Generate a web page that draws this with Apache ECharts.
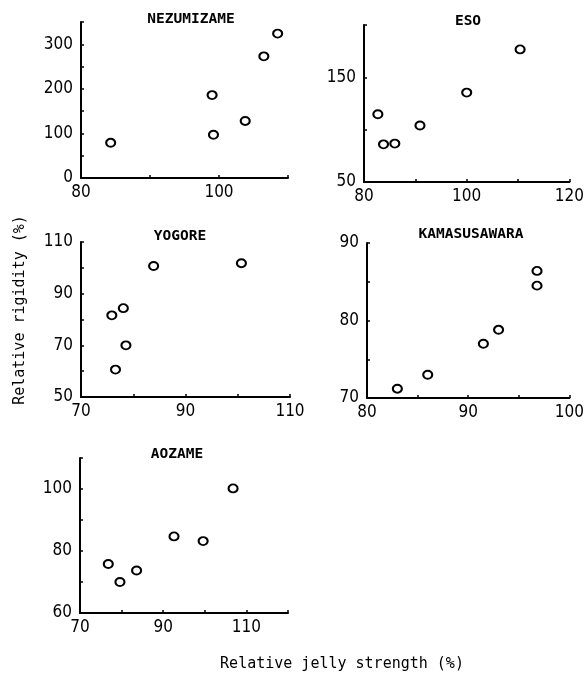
<!DOCTYPE html>
<html>
<head>
<meta charset="utf-8">
<script src="https://cdn.jsdelivr.net/npm/echarts@6/dist/echarts.min.js"></script>
<style>
html, body { margin: 0; padding: 0; background: #fff; }
#chart { width: 587px; height: 677px; }
</style>
</head>
<body>
<div id="chart"></div>
<script>
// relative jelly strength (x) vs relative rigidity (y)
var nezumizameX = [84.3, 99.0, 99.2, 103.8, 106.5, 108.5];
var nezumizameY = [79, 186, 97, 128, 273, 324];

var esoX = [82.7, 83.8, 86.0, 90.9, 100.0, 110.4];
var esoY = [114.7, 86, 86.7, 104, 135.4, 176.7];

var yogoreX = [75.9, 78.1, 78.6, 76.6, 83.9, 100.7];
var yogoreY = [81.6, 84.4, 70, 60.6, 100.7, 101.8];

var kamasusawaraX = [83.0, 86.0, 91.5, 93.0, 96.8, 96.8];
var kamasusawaraY = [71.2, 73.0, 77.0, 78.8, 84.5, 86.4];

var aozameX = [76.8, 79.6, 83.6, 92.6, 99.6, 106.8];
var aozameY = [75.8, 70, 73.7, 84.7, 83.2, 100.2];

// which ticks carry a label
var nezumizameXTicks = [80, 100];
var nezumizameYTicks = [0, 100, 200, 300];
var esoXTicks = [80, 100, 120];
var esoYTicks = [50, 150];
var yogoreXTicks = [70, 90, 110];
var yogoreYTicks = [50, 70, 90, 110];
var kamasusawaraXTicks = [80, 90, 100];
var kamasusawaraYTicks = [70, 80, 90];
var aozameXTicks = [70, 90, 110];
var aozameYTicks = [60, 80, 100];

var panels = [
    {name: 'NEZUMIZAME', x: nezumizameX, y: nezumizameY, xt: nezumizameXTicks, yt: nezumizameYTicks,
        xr: [80, 110, 10], yr: [0, 350, 50], grid: {left: 81, top: 22, width: 207, height: 156}, tp: [191, 12]},
    {name: 'ESO', x: esoX, y: esoY, xt: esoXTicks, yt: esoYTicks,
        xr: [80, 120, 10], yr: [50, 200, 50], grid: {left: 364, top: 25, width: 209, height: 157}, tp: [468, 14]},
    {name: 'YOGORE', x: yogoreX, y: yogoreY, xt: yogoreXTicks, yt: yogoreYTicks,
        xr: [70, 110, 10], yr: [50, 110, 10], grid: {left: 81, top: 242, width: 209, height: 155}, tp: [180, 229]},
    {name: 'KAMASUSAWARA', x: kamasusawaraX, y: kamasusawaraY, xt: kamasusawaraXTicks, yt: kamasusawaraYTicks,
        xr: [80, 100, 5], yr: [70, 90, 5], grid: {left: 367, top: 243, width: 207, height: 155}, tp: [471, 227]},
    {name: 'AOZAME', x: aozameX, y: aozameY, xt: aozameXTicks, yt: aozameYTicks,
        xr: [70, 120, 10], yr: [60, 110, 10], grid: {left: 80, top: 458, width: 208, height: 155}, tp: [177, 447]}
];

var tickFont = 'Liberation Sans Narrow, DejaVu Sans Condensed, sans-serif';
var monoFont = 'DejaVu Sans Mono, Liberation Mono, monospace';

var chartDom = document.getElementById('chart');
var myChart = echarts.init(chartDom);

var grids = [], xAxes = [], yAxes = [], series = [], titles = [];

panels.forEach(function (p, i) {
    grids.push({left: p.grid.left, top: p.grid.top, width: p.grid.width, height: p.grid.height, containLabel: false});
    xAxes.push({
        type: 'value', gridIndex: i,
        min: p.xr[0], max: p.xr[1], interval: p.xr[2],
        splitLine: {show: false},
        axisLine: {onZero: false, lineStyle: {color: '#000', width: 2}},
        axisTick: {inside: true, length: 3, lineStyle: {color: '#000', width: 1.5}},
        axisLabel: {
            color: '#000', fontSize: 17, fontFamily: tickFont, margin: 6,
            showMaxLabel: true, showMinLabel: true,
            formatter: function (v) { return p.xt.indexOf(v) !== -1 ? String(v) : ''; }
        }
    });
    yAxes.push({
        type: 'value', gridIndex: i,
        min: p.yr[0], max: p.yr[1], interval: p.yr[2],
        splitLine: {show: false},
        axisLine: {show: true, onZero: false, lineStyle: {color: '#000', width: 2}},
        axisTick: {show: true, inside: true, length: 3, lineStyle: {color: '#000', width: 1.5}},
        axisLabel: {
            color: '#000', fontSize: 17, fontFamily: tickFont, margin: 8,
            showMaxLabel: true, showMinLabel: true,
            formatter: function (v) { return p.yt.indexOf(v) !== -1 ? String(v) : ''; }
        }
    });
    series.push({
        type: 'scatter', xAxisIndex: i, yAxisIndex: i,
        symbol: 'circle', symbolSize: [9, 8],
        itemStyle: {color: '#fff', borderColor: '#000', borderWidth: 2, opacity: 1},
        data: p.x.map(function (v, k) { return [v, p.y[k]]; })
    });
    titles.push({
        text: p.name, left: p.tp[0], top: p.tp[1], textAlign: 'center', padding: 0,
        textStyle: {fontFamily: monoFont, fontSize: 14.5, fontWeight: 'bold', color: '#000'}
    });
});

var option = {
    animation: false,
    backgroundColor: '#fff',
    title: titles,
    grid: grids,
    xAxis: xAxes,
    yAxis: yAxes,
    series: series,
    graphic: [
        {
            type: 'text', x: 20, y: 310, rotation: Math.PI / 2,
            style: {text: 'Relative rigidity (%)', font: '15px ' + monoFont, fill: '#000',
                textAlign: 'center', textVerticalAlign: 'middle'}
        },
        {
            type: 'text', x: 342, y: 664,
            style: {text: 'Relative jelly strength (%)', font: '15px ' + monoFont, fill: '#000',
                textAlign: 'center', textVerticalAlign: 'middle'}
        }
    ]
};

myChart.setOption(option);
</script>
</body>
</html>
